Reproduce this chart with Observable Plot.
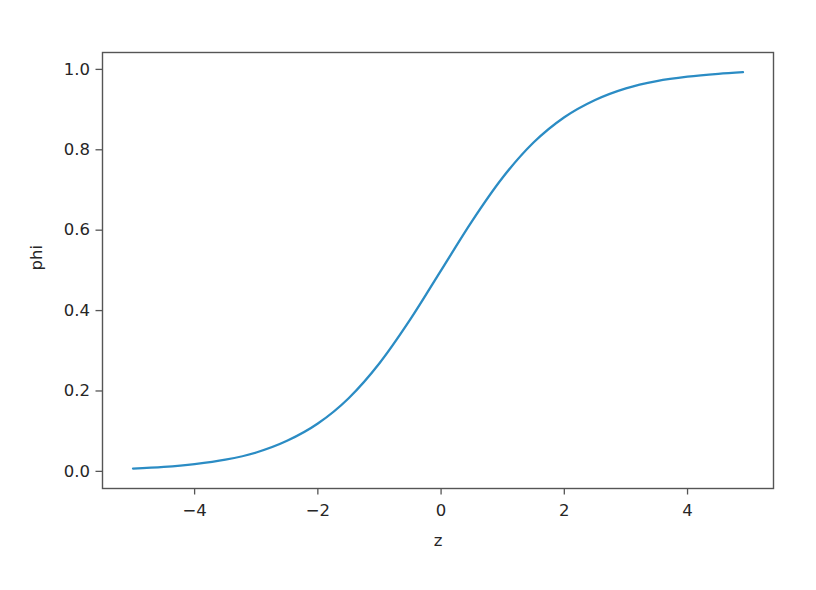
<!DOCTYPE html>
<html>
<head>
<meta charset="utf-8">
<script src="https://cdn.jsdelivr.net/npm/d3@7"></script>
<script src="https://cdn.jsdelivr.net/npm/@observablehq/plot@0.6"></script>
<style>
  html, body { margin: 0; padding: 0; background: #fff; }
  svg { display: block; }
</style>
</head>
<body>
<div id="chart"></div>
<script>
const zValues = [-5, -4.5, -4, -3.5, -3, -2.5, -2, -1.5, -1, -0.5, 0, 0.5, 1, 1.5, 2, 2.5, 3, 3.5, 4, 4.5, 4.9];
const phiValues = [0.007, 0.011, 0.018, 0.029, 0.047, 0.076, 0.119, 0.182, 0.269, 0.378, 0.5, 0.622, 0.731, 0.818, 0.881, 0.924, 0.953, 0.971, 0.982, 0.989, 0.993];
const xTicks = [-4, -2, 0, 2, 4];
const yTicks = [0, 0.2, 0.4, 0.6, 0.8, 1.0];

const data = zValues.map((z, i) => ({z, phi: phiValues[i]}));
const fmtX = d => d3.format("d")(d).replace("-", "\u2212");

const chart = Plot.plot({
  width: 816,
  height: 590,
  marginLeft: 102,
  marginRight: 43,
  marginTop: 52,
  marginBottom: 102,
  style: {fontFamily: "DejaVu Sans", fontSize: "16.5px", color: "#262626", background: "#fff"},
  x: {domain: [-5.495, 5.395], label: null},
  y: {domain: [-0.0426, 1.042], label: null},
  marks: [
    Plot.line(data, {x: "z", y: "phi", stroke: "#2b8cc4", strokeWidth: 2.3, curve: "monotone-x"}),
    Plot.frame({stroke: "#555", strokeWidth: 1.4}),
    Plot.axisX({ticks: xTicks, tickFormat: fmtX, tickSize: 6.5, tickPadding: 9, stroke: "#555", strokeWidth: 1.3, fontSize: 16.5, fill: "#262626", label: null}),
    Plot.axisY({ticks: yTicks, tickFormat: d3.format(".1f"), tickSize: 6.5, tickPadding: 6, stroke: "#555", strokeWidth: 1.3, fontSize: 16.5, fill: "#262626", label: null}),
    Plot.text(["z"], {frameAnchor: "bottom", dy: 57, fontSize: 16.5, fill: "#262626"}),
    Plot.text(["phi"], {frameAnchor: "left", dx: -66, rotate: -90, fontSize: 16.5, fill: "#262626"})
  ]
});
document.getElementById("chart").appendChild(chart);
</script>
</body>
</html>
